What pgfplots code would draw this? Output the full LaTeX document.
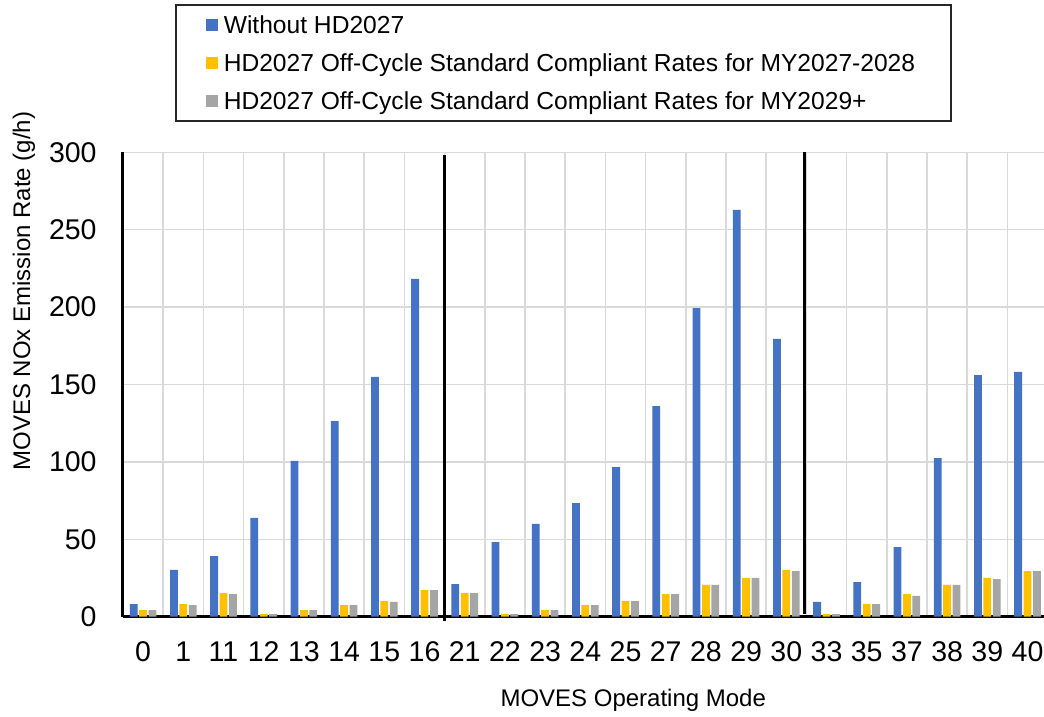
\documentclass[border=0pt]{standalone}
\usepackage{pgfplots}
\pgfplotsset{compat=1.18}
\usepackage{pgfplotstable}
\usepackage{fontspec}
\setmainfont{Liberation Sans}
\definecolor{cblue}{HTML}{4472C4}
\definecolor{cyellow}{HTML}{FFC000}
\definecolor{cgray}{HTML}{A5A5A5}
\definecolor{gridc}{HTML}{D9D9D9}

\pgfplotstableread{
x blue yellow gray
0 8.2 4.3 4.3
1 30.2 8.2 7.5
2 39.2 15.3 14.6
3 63.8 1.7 1.7
4 100.6 4.3 4.3
5 126.4 7.5 7.5
6 154.9 10.1 9.5
7 218.2 17.2 17.2
8 21.1 15.3 15.3
9 48.2 1.7 1.7
10 59.9 4.3 4.3
11 73.4 7.5 7.5
12 96.7 10.1 10.1
13 136.1 14.6 14.6
14 199.4 20.5 20.5
15 262.8 25.0 25.0
16 179.4 30.2 29.5
17 9.5 1.7 1.7
18 22.4 8.2 8.2
19 45.0 14.6 13.4
20 102.5 20.5 20.5
21 156.1 25.0 24.3
22 158.1 29.5 29.5
}\datatable

\begin{document}
\begin{tikzpicture}
\path[use as bounding box] (-61.5pt,-50.15pt) rectangle (460.5pt,308.35pt);
\begin{axis}[
  at={(0,0)}, anchor=south west,
  scale only axis, width=460.5pt, height=232.2pt,
  xmin=-0.5, xmax=22.41, ymin=0, ymax=300,
  ytick={0,50,...,300},
  xtick={0,...,22},
  xticklabels={0,1,11,12,13,14,15,16,21,22,23,24,25,27,28,29,30,33,35,37,38,39,40},
  minor xtick={0.5,1.5,...,21.5},
  xminorgrids, ymajorgrids,
  grid style={gridc, line width=0.75pt},
  minor grid style={gridc, line width=0.75pt},
  major tick length=0pt, minor tick length=0pt,
  axis x line=bottom, axis y line=left,
  axis line style={-, line width=1.5pt, black},
  clip=false,
  /pgf/number format/assume math mode=true,
  tick label style={font=\fontsize{14.25}{17}\selectfont},
  xticklabel style={anchor=center, yshift=-17.5pt},
  yticklabel style={anchor=east, inner sep=0pt, xshift=-13pt},
  ylabel={MOVES NOx Emission Rate (g/h)},
  ylabel style={at={(axis description cs:-0.1075,0.701)}, anchor=center, font=\fontsize{12}{14}\selectfont},
  xlabel={MOVES Operating Mode},
  xlabel style={at={(axis description cs:0.554,-0.1806)}, anchor=center, font=\fontsize{12}{14}\selectfont},
  legend cell align=left,
  legend image code/.code={\fill[#1] (0pt,-3pt) rectangle (6pt,3pt);},
  legend style={at={(axis description cs:0.0565,1.3193)}, anchor=north west,
    draw=black!85, line width=0.75pt, inner xsep=15pt, inner ysep=0.5pt,
    font=\fontsize{12.3}{14}\selectfont,
    nodes={inner xsep=3pt, inner ysep=0pt, text height=13.9pt, text depth=5.1pt},
    row sep=0pt},
]
\addplot[ybar, bar width=3.9pt, bar shift=-4.7pt, fill=cblue, draw=none] table[x=x,y=blue]{\datatable};
\addlegendentry{Without HD2027}
\addplot[ybar, bar width=3.9pt, bar shift=0pt, fill=cyellow, draw=none] table[x=x,y=yellow]{\datatable};
\addlegendentry{HD2027 Off-Cycle Standard Compliant Rates for MY2027-2028}
\addplot[ybar, bar width=3.9pt, bar shift=4.7pt, fill=cgray, draw=none] table[x=x,y=gray]{\datatable};
\addlegendentry{HD2027 Off-Cycle Standard Compliant Rates for MY2029+}
\draw[black, line width=1.5pt] (axis cs:7.5,-2.5) -- (axis cs:7.5,298.5);
\draw[black, line width=1.5pt] (axis cs:16.45,1.5) -- (axis cs:16.45,300);
\end{axis}
\end{tikzpicture}
\end{document}
